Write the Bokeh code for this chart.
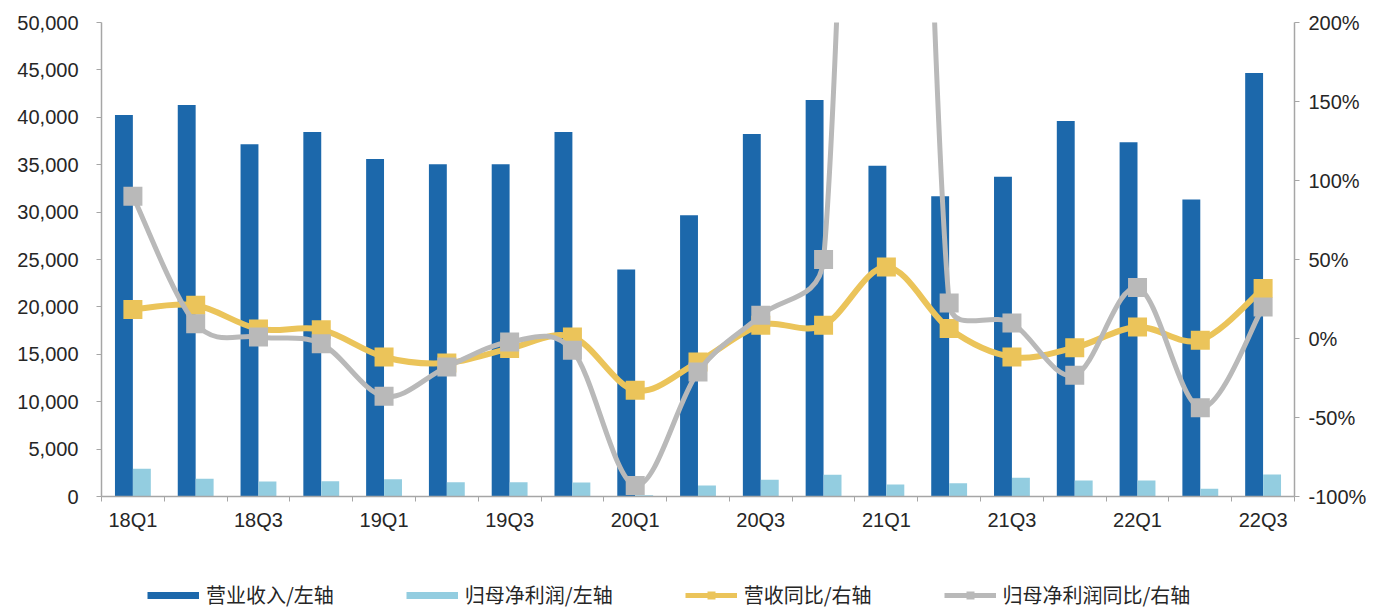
import math

from bokeh.plotting import figure
from bokeh.layouts import column
from bokeh.models import (Range1d, LinearAxis, FixedTicker, NumeralTickFormatter,
                          ColumnDataSource, Legend, LegendItem)
from bokeh.transform import dodge
from bokeh.embed import file_html
from bokeh.resources import INLINE

# Quarterly figures
quarters = ["18Q1", "18Q2", "18Q3", "18Q4", "19Q1", "19Q2", "19Q3", "19Q4",
            "20Q1", "20Q2", "20Q3", "20Q4", "21Q1", "21Q2", "21Q3", "21Q4",
            "22Q1", "22Q2", "22Q3"]
revenue = [40230, 41290, 37170, 38440, 35590, 35060, 35060, 38440, 23940, 29670,
           38230, 41820, 34880, 31680, 33720, 39600, 37380, 31330, 44670]
net_profit = [2920, 1870, 1580, 1620, 1830, 1510, 1510, 1480, 130, 1160,
              1760, 2290, 1270, 1410, 1970, 1690, 1690, 810, 2320]
revenue_yoy = [0.183, 0.21, 0.06, 0.056, -0.117, -0.155, -0.064, 0.01, -0.328, -0.149,
               0.084, 0.084, 0.453, 0.063, -0.117, -0.058, 0.073, -0.011, 0.316]
profit_yoy = [0.901, 0.094, 0.01, -0.033, -0.366, -0.18, -0.022, -0.075, -0.93, -0.212,
              0.147, 0.50, 8.9, 0.225, 0.098, -0.233, 0.322, -0.438, 0.20]

left_ticks = [0, 5000, 10000, 15000, 20000, 25000, 30000, 35000, 40000, 45000, 50000]
right_ticks = [-1.0, -0.5, 0.0, 0.5, 1.0, 1.5, 2.0]
label_names = ["营业收入/左轴", "归母净利润/左轴", "营收同比/右轴", "归母净利润同比/右轴"]

DARK = "#1c68ab"
LIGHT = "#93cde0"
GOLD = "#ebc45a"
GREY = "#b9b9b9"
AXIS = "#a6a6a6"
TEXT = "#262626"

W = 1388
H_MAIN = 560
H_LEG = 49
BORDER_L, BORDER_R, BORDER_T, BORDER_B = 101, 94, 22, 64
FRAME_W = W - BORDER_L - BORDER_R
FRAME_H = H_MAIN - BORDER_T - BORDER_B
PCT_LO, PCT_HI = -1.0, 2.0

xs = list(range(len(quarters)))

p = figure(width=W, height=H_MAIN, output_backend="svg", toolbar_location=None,
           x_range=Range1d(-0.5, len(quarters) - 0.5), y_range=Range1d(0, 50000),
           min_border_left=BORDER_L, min_border_right=BORDER_R,
           min_border_top=BORDER_T, min_border_bottom=BORDER_B)
p.extra_y_ranges = {"pct": Range1d(PCT_LO, PCT_HI)}
p.xgrid.visible = False
p.ygrid.visible = False
p.outline_line_color = None

src = ColumnDataSource(dict(x=xs, revenue=revenue, profit=net_profit,
                            ryoy=revenue_yoy, pyoy=profit_yoy))

# bars
p.vbar(x=dodge("x", -0.143, range=p.x_range), top="revenue", width=0.285,
       source=src, fill_color=DARK, line_color=None)
p.vbar(x=dodge("x", 0.143, range=p.x_range), top="profit", width=0.285,
       source=src, fill_color=LIGHT, line_color=None)

# pixels per data unit, so the smoothing works on the drawn aspect ratio
SX = FRAME_W / len(quarters)
SY = FRAME_H / (PCT_HI - PCT_LO)


def smooth(ys):
    """Bezier segments through the points; tangents follow the neighbours
    and are capped at half the segment length."""
    n = len(ys)
    pts = [(x * SX, y * SY) for x, y in zip(xs, ys)]
    seg = dict(x0=[], y0=[], x1=[], y1=[], cx0=[], cy0=[], cx1=[], cy1=[])

    def tangent(a, b, limit):
        tx, ty = (b[0] - a[0]) / 6, (b[1] - a[1]) / 6
        ln = math.hypot(tx, ty)
        if ln > limit > 0:
            tx, ty = tx * limit / ln, ty * limit / ln
        return tx, ty

    for i in range(n - 1):
        p0, p1 = pts[max(i - 1, 0)], pts[i]
        p2, p3 = pts[i + 1], pts[min(i + 2, n - 1)]
        half = math.hypot(p2[0] - p1[0], p2[1] - p1[1]) / 2
        t1 = tangent(p0, p2, half)
        t2 = tangent(p1, p3, half)
        seg["x0"].append(xs[i]); seg["y0"].append(ys[i])
        seg["x1"].append(xs[i + 1]); seg["y1"].append(ys[i + 1])
        seg["cx0"].append((p1[0] + t1[0]) / SX); seg["cy0"].append((p1[1] + t1[1]) / SY)
        seg["cx1"].append((p2[0] - t2[0]) / SX); seg["cy1"].append((p2[1] - t2[1]) / SY)
    return ColumnDataSource(seg)


curve_kw = dict(x0="x0", y0="y0", x1="x1", y1="y1", cx0="cx0", cy0="cy0",
                cx1="cx1", cy1="cy1", y_range_name="pct", line_cap="round")

p.bezier(source=smooth(revenue_yoy), line_color=GOLD, line_width=6, **curve_kw)
p.scatter(x="x", y="ryoy", source=src, y_range_name="pct", marker="square",
          size=19, fill_color=GOLD, line_color=None)
p.bezier(source=smooth(profit_yoy), line_color=GREY, line_width=5, **curve_kw)
p.scatter(x="x", y="pyoy", source=src, y_range_name="pct", marker="square",
          size=19, fill_color=GREY, line_color=None)

# axes
p.xaxis.ticker = FixedTicker(ticks=xs[::2], minor_ticks=[x - 0.5 for x in xs] + [xs[-1] + 0.5])
p.xaxis.major_label_overrides = {x: quarters[x] for x in xs[::2]}
p.xaxis.major_tick_out = 0
p.xaxis.major_tick_in = 0
p.xaxis.minor_tick_out = 5
p.xaxis.minor_tick_in = 0
p.xaxis.major_label_standoff = 7

p.yaxis.ticker = FixedTicker(ticks=left_ticks)
p.yaxis.formatter = NumeralTickFormatter(format="0,0")
p.yaxis.major_tick_out = 5
p.yaxis.major_tick_in = 0
p.yaxis.major_label_standoff = 18

right = LinearAxis(y_range_name="pct", ticker=FixedTicker(ticks=right_ticks),
                   formatter=NumeralTickFormatter(format="0%"))
right.major_tick_out = 5
right.major_tick_in = 0
right.major_label_standoff = 9
p.add_layout(right, "right")

for ax in [p.xaxis[0], p.yaxis[0], right]:
    ax.axis_line_color = AXIS
    ax.axis_line_width = 1.5
    ax.major_tick_line_color = AXIS
    ax.minor_tick_line_color = AXIS if ax is p.xaxis[0] else None
    ax.major_label_text_font = "Liberation Sans"
    ax.major_label_text_font_size = "20px"
    ax.major_label_text_color = TEXT

# legend strip under the chart; its view window holds none of the series,
# so only the legend itself shows
lf = figure(width=W, height=H_LEG, output_backend="svg", toolbar_location=None,
            x_axis_location=None, y_axis_location=None, min_border=0,
            x_range=Range1d(-100, -99), y_range=Range1d(-100, -99))
lf.xgrid.visible = False
lf.ygrid.visible = False
lf.outline_line_color = None

sw_dark = lf.line(x="x", y="revenue", source=src, line_color=DARK, line_width=7)
sw_light = lf.line(x="x", y="profit", source=src, line_color=LIGHT, line_width=7)
sw_gold = lf.line(x="x", y="ryoy", source=src, line_color=GOLD, line_width=5)
mk_gold = lf.scatter(x="x", y="ryoy", source=src, marker="square",
                     fill_color=GOLD, line_color=None)
sw_grey = lf.line(x="x", y="pyoy", source=src, line_color=GREY, line_width=5)
mk_grey = lf.scatter(x="x", y="pyoy", source=src, marker="square",
                     fill_color=GREY, line_color=None)

legend = Legend(items=[
    LegendItem(label=label_names[0], renderers=[sw_dark]),
    LegendItem(label=label_names[1], renderers=[sw_light]),
    LegendItem(label=label_names[2], renderers=[sw_gold, mk_gold]),
    LegendItem(label=label_names[3], renderers=[sw_grey, mk_grey]),
], orientation="horizontal", location=(46, 0), margin=0, padding=0,
    spacing=72, glyph_width=52, glyph_height=20, label_standoff=7,
    label_text_font="Noto Sans CJK SC", label_text_font_size="20px",
    label_text_color=TEXT, border_line_color=None, background_fill_alpha=0)
lf.add_layout(legend, "center")

page = column(p, lf, spacing=0)
open("out.html", "w").write(file_html(page, INLINE))
